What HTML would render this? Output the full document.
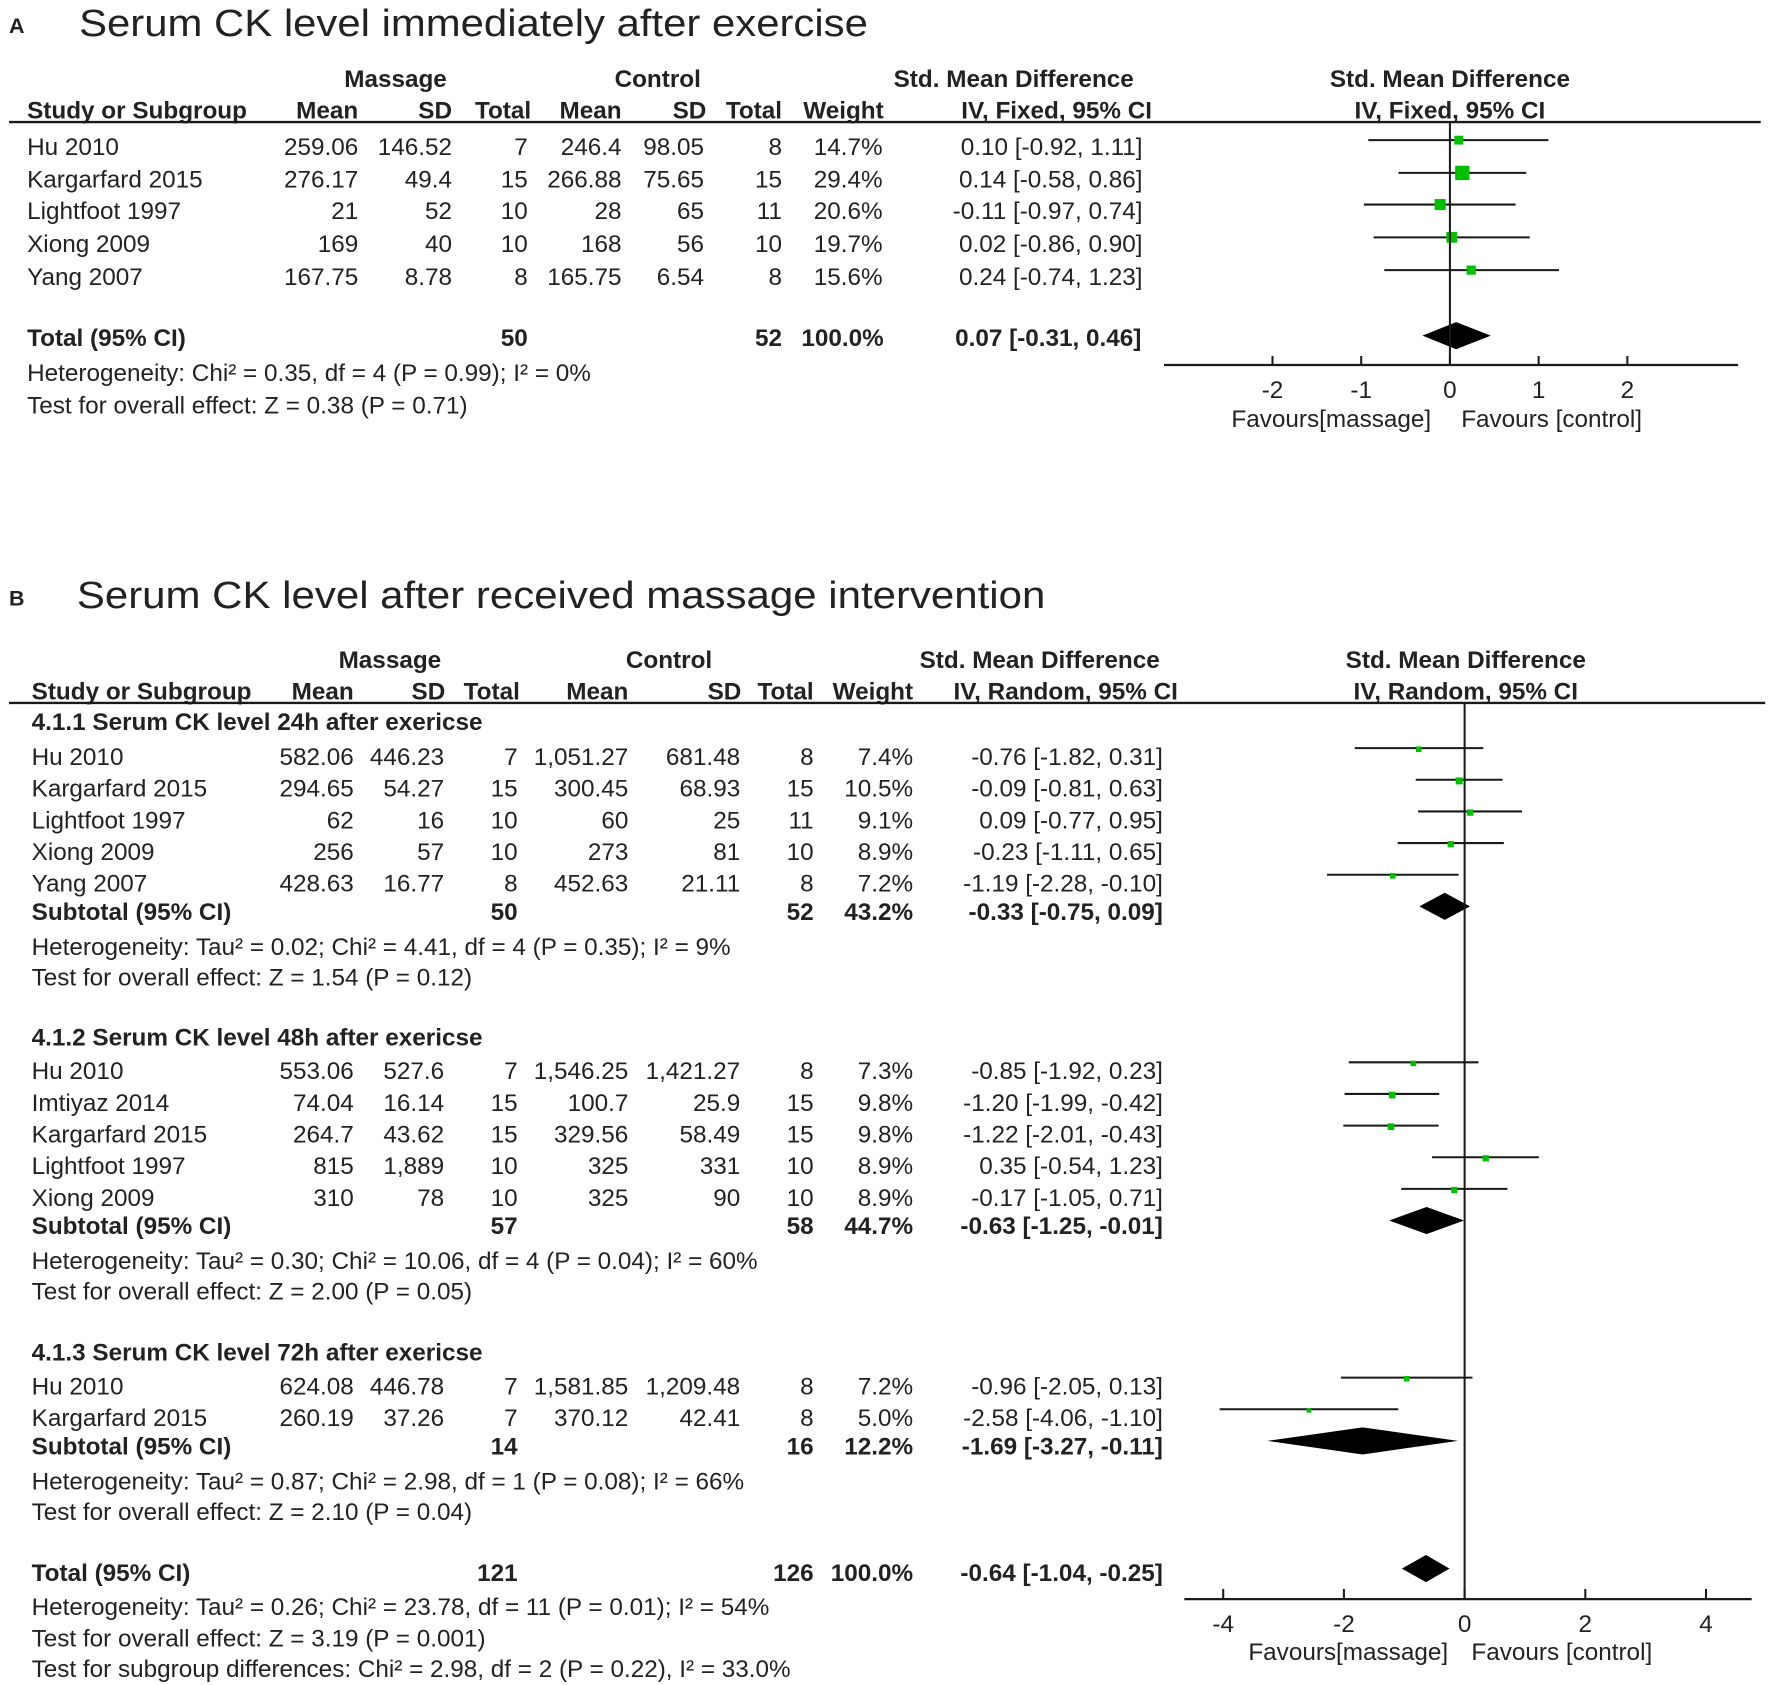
<!DOCTYPE html>
<html><head><meta charset="utf-8"><style>
html,body{margin:0;padding:0;background:#fff;}
svg{display:block;font-family:"Liberation Sans",sans-serif;}
text{fill:#222;font-size:21.5px;}
.b{font-weight:bold;}
</style></head><body>
<svg id="fig" width="1772" height="1685" viewBox="0 0 1568 1491" xmlns="http://www.w3.org/2000/svg">
<g id="A"></g>
<g id="B"></g>
</svg>
<script>
// Panel A data
const aStudies = ["Hu 2010","Kargarfard 2015","Lightfoot 1997","Xiong 2009","Yang 2007"];
const aMassMean = ["259.06","276.17","21","169","167.75"];
const aMassSD = ["146.52","49.4","52","40","8.78"];
const aMassN = ["7","15","10","10","8"];
const aCtrlMean = ["246.4","266.88","28","168","165.75"];
const aCtrlSD = ["98.05","75.65","65","56","6.54"];
const aCtrlN = ["8","15","11","10","8"];
const aWeight = [14.7,29.4,20.6,19.7,15.6];
const aSmd = [0.10,0.14,-0.11,0.02,0.24];
const aLo = [-0.92,-0.58,-0.97,-0.86,-0.74];
const aHi = [1.11,0.86,0.74,0.90,1.23];
const aTotal = [0.07,-0.31,0.46];
const aTicks = [-2,-1,0,1,2];

// Panel B data
const bStudies = ["Hu 2010","Kargarfard 2015","Lightfoot 1997","Xiong 2009","Yang 2007",
 "Hu 2010","Imtiyaz 2014","Kargarfard 2015","Lightfoot 1997","Xiong 2009",
 "Hu 2010","Kargarfard 2015"];
const bGroup = [0,0,0,0,0,1,1,1,1,1,2,2];
const bMassMean = ["582.06","294.65","62","256","428.63","553.06","74.04","264.7","815","310","624.08","260.19"];
const bMassSD = ["446.23","54.27","16","57","16.77","527.6","16.14","43.62","1,889","78","446.78","37.26"];
const bMassN = ["7","15","10","10","8","7","15","15","10","10","7","7"];
const bCtrlMean = ["1,051.27","300.45","60","273","452.63","1,546.25","100.7","329.56","325","325","1,581.85","370.12"];
const bCtrlSD = ["681.48","68.93","25","81","21.11","1,421.27","25.9","58.49","331","90","1,209.48","42.41"];
const bCtrlN = ["8","15","11","10","8","8","15","15","10","10","8","8"];
const bWeight = [7.4,10.5,9.1,8.9,7.2,7.3,9.8,9.8,8.9,8.9,7.2,5.0];
const bSmd = [-0.76,-0.09,0.09,-0.23,-1.19,-0.85,-1.20,-1.22,0.35,-0.17,-0.96,-2.58];
const bLo = [-1.82,-0.81,-0.77,-1.11,-2.28,-1.92,-1.99,-2.01,-0.54,-1.05,-2.05,-4.06];
const bHi = [0.31,0.63,0.95,0.65,-0.10,0.23,-0.42,-0.43,1.23,0.71,0.13,-1.10];
const bSubSmd = [-0.33,-0.63,-1.69];
const bSubLo = [-0.75,-1.25,-3.27];
const bSubHi = [0.09,-0.01,-0.11];
const bSubMassN = ["50","57","14"];
const bSubCtrlN = ["52","58","16"];
const bSubWeight = ["43.2%","44.7%","12.2%"];
const bTotal = [-0.64,-1.04,-0.25];
const bTicks = [-4,-2,0,2,4];

const NS = "http://www.w3.org/2000/svg";
function mk(parent, tag, attrs, txt){
  const e = document.createElementNS(NS, tag);
  for (const k in attrs) e.setAttribute(k, attrs[k]);
  if (txt !== undefined) e.textContent = txt;
  parent.appendChild(e);
  return e;
}
function T(parent, x, y, s, anchor, cls, name){
  const e = mk(parent, "text", {x:x, y:y, "text-anchor":anchor||"start", "class":cls||""}, s);
  
  
  return e;
}
function L(parent, x1, y1, x2, y2, w, name){
  const e = mk(parent, "line", {x1:x1, y1:y1, x2:x2, y2:y2, stroke:"#1a1a1a", "stroke-width":w||1.8});
  
  
  return e;
}
function fmt(v){ return v.toFixed(2); }
function ci(s,l,h){ return fmt(s)+" ["+fmt(l)+", "+fmt(h)+"]"; }

// ---------- Panel A ----------
(function(){
  const g = document.getElementById("A");
  const x0 = 1283, unit = 78.5;
  const sx = v => x0 + v*unit;
  T(g, 8, 29, "A", "start", "b", "panel-a-label").setAttribute("style","font-size:19px");
  const t = T(g, 70, 32, "Serum CK level immediately after exercise", "start", "", "panel-a-title");
  t.setAttribute("style","font-size:34px");
  t.setAttribute("textLength","698"); t.setAttribute("lengthAdjust","spacingAndGlyphs");
  T(g, 350, 77, "Massage", "middle", "b", "massage-header");
  T(g, 582, 77, "Control", "middle", "b", "control-header");
  T(g, 897, 77, "Std. Mean Difference", "middle", "b", "smd-header");
  T(g, 1283, 77, "Std. Mean Difference", "middle", "b", "plot-smd-header");
  const hy = 105;
  T(g, 24, hy, "Study or Subgroup", "start", "b", "study-header");
  T(g, 317, hy, "Mean", "end", "b", "massage-mean-header");
  T(g, 400, hy, "SD", "end", "b", "massage-sd-header");
  T(g, 470, hy, "Total", "end", "b", "massage-total-header");
  T(g, 550, hy, "Mean", "end", "b", "control-mean-header");
  T(g, 625, hy, "SD", "end", "b", "control-sd-header");
  T(g, 692, hy, "Total", "end", "b", "control-total-header");
  T(g, 782, hy, "Weight", "end", "b", "weight-header");
  T(g, 935, hy, "IV, Fixed, 95% CI", "middle", "b", "ci-header");
  T(g, 1283, hy, "IV, Fixed, 95% CI", "middle", "b", "plot-ci-header");
  L(g, 8, 108, 1558, 108, 2, "header-rule");
  const rowY = [137,166,194,223,252];
  aStudies.forEach((s,i)=>{
    const y = rowY[i];
    T(g, 24, y, s, "start", "", "study-name");
    T(g, 317, y, aMassMean[i], "end", "", "massage-mean");
    T(g, 400, y, aMassSD[i], "end", "", "massage-sd");
    T(g, 467, y, aMassN[i], "end", "", "massage-total");
    T(g, 550, y, aCtrlMean[i], "end", "", "control-mean");
    T(g, 623, y, aCtrlSD[i], "end", "", "control-sd");
    T(g, 692, y, aCtrlN[i], "end", "", "control-total");
    T(g, 781, y, aWeight[i].toFixed(1)+"%", "end", "", "weight");
    T(g, 1011, y, ci(aSmd[i],aLo[i],aHi[i]), "end", "", "smd-ci");
    const cy = y - 13;
    L(g, sx(aLo[i]), cy, sx(aHi[i]), cy, 1.8, "ci-line");
    const sz = 3 + aWeight[i]*0.33;
    const r = mk(g, "rect", {x:sx(aSmd[i])-sz/2, y:cy-sz/2, width:sz, height:sz, fill:"#00c000"});
    
    
  });
  T(g, 24, 306, "Total (95% CI)", "start", "b", "total-label");
  T(g, 467, 306, "50", "end", "b", "massage-total-n");
  T(g, 692, 306, "52", "end", "b", "control-total-n");
  T(g, 782, 306, "100.0%", "end", "b", "total-weight");
  T(g, 1010, 306, ci(aTotal[0],aTotal[1],aTotal[2]), "end", "b", "total-ci");
  T(g, 24, 337, "Heterogeneity: Chi² = 0.35, df = 4 (P = 0.99); I² = 0%", "start", "", "heterogeneity");
  T(g, 24, 366, "Test for overall effect: Z = 0.38 (P = 0.71)", "start", "", "overall-effect");
  const dy = 297, dh = 12;
  const d = mk(g, "polygon", {points:[sx(aTotal[1])+","+dy, sx(aTotal[0])+","+(dy-dh), sx(aTotal[2])+","+dy, sx(aTotal[0])+","+(dy+dh)].join(" "), fill:"#000"});
  
  
  L(g, x0, 108, x0, 323, 1.8, "zero-line");
  L(g, 1030, 323, 1538, 323, 2, "x-axis");
  aTicks.forEach(v=>{
    L(g, sx(v), 315, sx(v), 323, 1.8, "x-tick");
    T(g, sx(v), 352, String(v), "middle", "", "x-tick-label");
  });
  T(g, 1178, 378, "Favours[massage]", "middle", "", "favours-massage");
  T(g, 1373, 378, "Favours [control]", "middle", "", "favours-control");
})();

// ---------- Panel B ----------
(function(){
  const g = document.getElementById("B");
  const x0 = 1296, unit = 53.4;
  const sx = v => x0 + v*unit;
  T(g, 8, 536, "B", "start", "b", "panel-b-label").setAttribute("style","font-size:19px");
  const t = T(g, 68, 538, "Serum CK level after received massage intervention", "start", "", "panel-b-title");
  t.setAttribute("style","font-size:34px");
  t.setAttribute("textLength","857"); t.setAttribute("lengthAdjust","spacingAndGlyphs");
  T(g, 345, 591, "Massage", "middle", "b", "massage-header");
  T(g, 592, 591, "Control", "middle", "b", "control-header");
  T(g, 920, 591, "Std. Mean Difference", "middle", "b", "smd-header");
  T(g, 1297, 591, "Std. Mean Difference", "middle", "b", "plot-smd-header");
  const hy = 619;
  T(g, 28, hy, "Study or Subgroup", "start", "b", "study-header");
  T(g, 313, hy, "Mean", "end", "b", "massage-mean-header");
  T(g, 394, hy, "SD", "end", "b", "massage-sd-header");
  T(g, 460, hy, "Total", "end", "b", "massage-total-header");
  T(g, 556, hy, "Mean", "end", "b", "control-mean-header");
  T(g, 656, hy, "SD", "end", "b", "control-sd-header");
  T(g, 720, hy, "Total", "end", "b", "control-total-header");
  T(g, 808, hy, "Weight", "end", "b", "weight-header");
  T(g, 943, hy, "IV, Random, 95% CI", "middle", "b", "ci-header");
  T(g, 1297, hy, "IV, Random, 95% CI", "middle", "b", "plot-ci-header");
  L(g, 8, 622, 1562, 622, 2, "header-rule");
  const headY = [646,925,1204];
  const headT = ["4.1.1 Serum CK level 24h after exericse","4.1.2 Serum CK level 48h after exericse","4.1.3 Serum CK level 72h after exericse"];
  const rowY = [677,705,733,761,789,955,983,1011,1039,1067,1234,1262];
  const subY = [814,1092,1287];
  const hetT = ["Heterogeneity: Tau² = 0.02; Chi² = 4.41, df = 4 (P = 0.35); I² = 9%",
    "Heterogeneity: Tau² = 0.30; Chi² = 10.06, df = 4 (P = 0.04); I² = 60%",
    "Heterogeneity: Tau² = 0.87; Chi² = 2.98, df = 1 (P = 0.08); I² = 66%"];
  const zT = ["Test for overall effect: Z = 1.54 (P = 0.12)","Test for overall effect: Z = 2.00 (P = 0.05)","Test for overall effect: Z = 2.10 (P = 0.04)"];
  headT.forEach((s,k)=>T(g, 28, headY[k], s, "start", "b", "subgroup-heading"));
  bStudies.forEach((s,i)=>{
    const y = rowY[i];
    T(g, 28, y, s, "start", "", "study-name");
    T(g, 313, y, bMassMean[i], "end", "", "massage-mean");
    T(g, 393, y, bMassSD[i], "end", "", "massage-sd");
    T(g, 458, y, bMassN[i], "end", "", "massage-total");
    T(g, 556, y, bCtrlMean[i], "end", "", "control-mean");
    T(g, 655, y, bCtrlSD[i], "end", "", "control-sd");
    T(g, 720, y, bCtrlN[i], "end", "", "control-total");
    T(g, 808, y, bWeight[i].toFixed(1)+"%", "end", "", "weight");
    T(g, 1029, y, ci(bSmd[i],bLo[i],bHi[i]), "end", "", "smd-ci");
    const cy = y - 15;
    L(g, sx(bLo[i]), cy, sx(bHi[i]), cy, 1.8, "ci-line");
    const sz = 2 + bWeight[i]*0.4;
    const r = mk(g, "rect", {x:sx(bSmd[i])-sz/2, y:cy-sz/2+1, width:sz, height:sz, fill:"#00c000"});
    
    
  });
  function diamond(s,l,h,y,hh,name){
    const d = mk(g, "polygon", {points:[sx(l)+","+y, sx(s)+","+(y-hh), sx(h)+","+y, sx(s)+","+(y+hh)].join(" "), fill:"#000"});
    
    
  }
  subY.forEach((y,k)=>{
    T(g, 28, y, "Subtotal (95% CI)", "start", "b", "subtotal-label");
    T(g, 458, y, bSubMassN[k], "end", "b", "subtotal-massage-n");
    T(g, 720, y, bSubCtrlN[k], "end", "b", "subtotal-control-n");
    T(g, 808, y, bSubWeight[k], "end", "b", "subtotal-weight");
    T(g, 1029, y, ci(bSubSmd[k],bSubLo[k],bSubHi[k]), "end", "b", "subtotal-ci");
    T(g, 28, y+31, hetT[k], "start", "", "subgroup-heterogeneity");
    T(g, 28, y+58, zT[k], "start", "", "subgroup-overall-effect");
    diamond(bSubSmd[k],bSubLo[k],bSubHi[k], y-12, 12, "subtotal-diamond");
  });
  T(g, 28, 1399, "Total (95% CI)", "start", "b", "total-label");
  T(g, 458, 1399, "121", "end", "b", "massage-total-n");
  T(g, 720, 1399, "126", "end", "b", "control-total-n");
  T(g, 808, 1399, "100.0%", "end", "b", "total-weight");
  T(g, 1029, 1399, ci(bTotal[0],bTotal[1],bTotal[2]), "end", "b", "total-ci");
  T(g, 28, 1429, "Heterogeneity: Tau² = 0.26; Chi² = 23.78, df = 11 (P = 0.01); I² = 54%", "start", "", "heterogeneity");
  T(g, 28, 1457, "Test for overall effect: Z = 3.19 (P = 0.001)", "start", "", "overall-effect");
  T(g, 28, 1484, "Test for subgroup differences: Chi² = 2.98, df = 2 (P = 0.22), I² = 33.0%", "start", "", "subgroup-differences");
  diamond(bTotal[0],bTotal[1],bTotal[2], 1388, 12, "total-diamond");
  L(g, x0, 622, x0, 1415, 1.8, "zero-line");
  L(g, 1048, 1415, 1550, 1415, 2, "x-axis");
  bTicks.forEach(v=>{
    L(g, sx(v), 1406, sx(v), 1415, 1.8, "x-tick");
    T(g, sx(v), 1444, String(v), "middle", "", "x-tick-label");
  });
  T(g, 1193, 1469, "Favours[massage]", "middle", "", "favours-massage");
  T(g, 1382, 1469, "Favours [control]", "middle", "", "favours-control");
})();
</script>
</body></html>
